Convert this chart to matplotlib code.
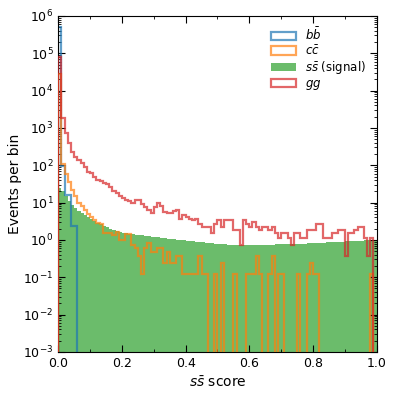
import numpy as np
import matplotlib
matplotlib.use("Agg")
import matplotlib.pyplot as plt
from matplotlib.ticker import MultipleLocator, LogLocator, NullFormatter

# 100 bins of width 0.01 on [0, 1]
n_bins = 100
edges = np.linspace(0.0, 1.0, n_bins + 1)
centers = 0.5 * (edges[:-1] + edges[1:])

# Events per bin
bb_vals = [5e5, 95, 16, 16, 2.3, 2.3] + [0] * 94

cc_vals = [2.8e4, 110, 60, 35, 22, 15, 10, 8, 6.3, 5,
           4.2, 3.5, 2.8, 2.6, 1.5, 1.5, 1.5, 1.35, 1.6, 1.0,
           1.0, 1.4, 1.4, 0.72, 0.6, 0.36, 0.12, 0.6, 0.84, 0.48,
           0.48, 0.6, 0.6, 0.24, 0.48, 0.24, 0.24, 0.36, 0.36, 0.12,
           0.12, 0.12, 0.12, 0.12, 0.36, 0.12, 0.12, 0, 0, 0.12,
           0, 0.24, 0, 0, 0, 0.12, 0, 0, 0, 0.12,
           0.12, 0.12, 0.36, 0.12, 0, 0, 0.12, 0.36, 0, 0.12,
           0.12, 0, 0, 0, 0, 0.12, 0, 0, 0.12, 0.24,
           0.12, 0.12, 0, 0, 0, 0, 0, 0, 0, 0,
           0, 0, 0, 0, 0, 0, 0, 0, 0.12, 0]

ss_vals = [25, 20, 15, 11, 8.5, 7.0, 6.0, 5.3, 4.7, 4.1,
           3.6, 3.2, 2.9, 2.6, 2.4, 2.2, 2.0, 1.85, 1.75, 1.65,
           1.58, 1.52, 1.47, 1.42, 1.38, 1.35, 1.32, 1.29, 1.26, 1.23,
           1.2, 1.17, 1.14, 1.11, 1.09, 1.07, 1.04, 1.02, 1.0, 0.98,
           0.96, 0.94, 0.92, 0.90, 0.88, 0.86, 0.84, 0.83, 0.81, 0.80,
           0.79, 0.77, 0.76, 0.75, 0.74, 0.73, 0.72, 0.72, 0.71, 0.71,
           0.72, 0.72, 0.73, 0.73, 0.74, 0.74, 0.75, 0.75, 0.76, 0.76,
           0.77, 0.77, 0.78, 0.78, 0.79, 0.79, 0.80, 0.80, 0.81, 0.82,
           0.82, 0.83, 0.84, 0.85, 0.86, 0.86, 0.87, 0.88, 0.89, 0.90,
           0.91, 0.92, 0.93, 0.94, 0.95, 0.96, 0.97, 0.98, 0.98, 0.95]

gg_vals = [8e4, 1800, 730, 390, 233, 170, 140, 113, 92, 67,
           61, 50, 41, 39, 34, 31, 27, 21, 18, 15,
           13, 11.7, 11, 10, 11.7, 11.7, 9, 7.8, 6.3, 5.2,
           7.8, 10, 8, 5.5, 5.2, 5.2, 5.9, 6.3, 3.7, 4.8,
           4.1, 3.7, 3.4, 3.7, 2.6, 2.2, 2.2, 2.2, 1.5, 2.6,
           3.4, 2.2, 3.4, 3.4, 3.4, 1.85, 1.85, 0.74, 3.4, 2.6,
           2.2, 3.0, 2.2, 1.85, 2.2, 2.2, 1.85, 2.2, 1.5, 1.1,
           1.5, 1.5, 1.1, 0.74, 1.5, 1.5, 1.1, 1.1, 1.85, 1.85,
           1.85, 2.6, 2.6, 1.1, 1.1, 1.1, 1.5, 1.5, 1.85, 1.85,
           0.37, 1.5, 1.5, 1.85, 2.2, 2.2, 1.1, 0.37, 1.1, 0]

labels = [r"$b\bar{b}$", r"$c\bar{c}$", r"$s\bar{s}$ (signal)", r"$gg$"]
colors = ["#1f77b4", "#ff7f0e", "#2ca02c", "#d62728"]

fig = plt.figure(figsize=(3.99, 3.99), dpi=100)
ax = fig.add_axes([0.146, 0.118, 0.798, 0.842])

_, _, p_ss = ax.hist(centers, bins=edges, weights=ss_vals, histtype="stepfilled",
                     color=colors[2], alpha=0.7, label=labels[2], zorder=1)
_, _, p_bb = ax.hist(centers, bins=edges, weights=bb_vals, histtype="step",
                     color=colors[0], alpha=0.7, lw=1.6, label=labels[0], zorder=2)
_, _, p_cc = ax.hist(centers, bins=edges, weights=cc_vals, histtype="step",
                     color=colors[1], alpha=0.7, lw=1.6, label=labels[1], zorder=3)
_, _, p_gg = ax.hist(centers, bins=edges, weights=gg_vals, histtype="step",
                     color=colors[3], alpha=0.7, lw=1.6, label=labels[3], zorder=4)

ax.set_yscale("log")
ax.set_xlim(0, 1)
ax.set_ylim(1e-3, 1e6)

ax.xaxis.set_major_locator(MultipleLocator(0.2))
ax.xaxis.set_minor_locator(MultipleLocator(0.1))
ax.yaxis.set_major_locator(LogLocator(base=10, numticks=20))
ax.yaxis.set_minor_locator(LogLocator(base=10, subs=np.arange(2, 10), numticks=100))
ax.yaxis.set_minor_formatter(NullFormatter())
ax.tick_params(which="both", direction="in", top=True, right=True, labelsize=9)
ax.tick_params(which="major", length=5)
ax.tick_params(which="minor", length=2.5)

ax.set_xlabel(r"$s\bar{s}$ score", fontsize=10)
ax.set_ylabel("Events per bin", fontsize=10, labelpad=1)

handles = [p_bb[0], p_cc[0], p_ss[0], p_gg[0]]
ax.legend(handles, labels, loc="upper right", frameon=False, fontsize=8.5,
          bbox_to_anchor=(1.0, 1.0), labelspacing=0.1, handletextpad=0.75,
          handlelength=2.15)

fig.savefig("out.png", dpi=100)
